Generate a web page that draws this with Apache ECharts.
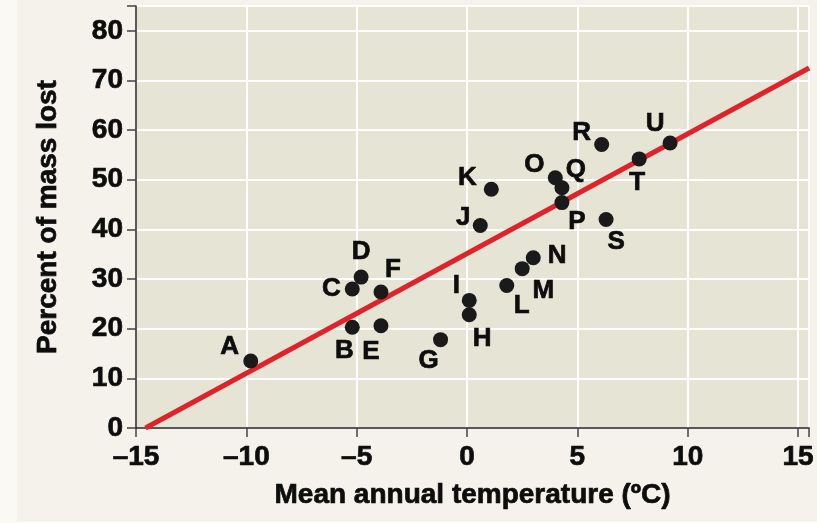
<!DOCTYPE html>
<html>
<head>
<meta charset="utf-8">
<script src="https://cdn.jsdelivr.net/npm/echarts@6/dist/echarts.min.js"></script>
<style>
html,body{margin:0;padding:0;background:#faf9f4;}
#chart{width:817px;height:523px;}
</style>
</head>
<body>
<div id="chart"></div>
<script>
// ---- data ----
var siteNames = ['A','B','C','D','E','F','G','H','I','J','K','L','M','N','O','P','Q','R','S','T','U'];
var temperature = [-9.8,-5.2,-5.2,-4.8,-3.9,-3.9,-1.2,0.1,0.1,0.6,1.1,1.8,2.5,3.0,4.0,4.3,4.3,6.1,6.3,7.8,9.2];
var massLost = [13.5,20.3,28.0,30.4,20.6,27.4,17.8,22.8,25.7,40.8,48.1,28.7,32.1,34.3,50.4,45.4,48.4,57.1,42.0,54.2,57.4];
var fitLineX = [-14.57, 15.5];
var fitLineY = [0, 72.5];
var xTicks = [-15,-10,-5,0,5,10,15];
var yTicks = [0,10,20,30,40,50,60,70,80];

// label placement (styling only, pixel offsets from each point)
var labelOffsets = {
  A:[-21,-14], B:[-8,24], C:[-21,0], D:[0,-25], E:[-10,26], F:[12,-22], G:[-12,21],
  H:[13,24], I:[-13,-15], J:[-17,-8], K:[-24,-11], L:[15,20], M:[21,22], N:[24,-2],
  O:[-21,-13], P:[15,19], Q:[14,-18], R:[-20,-12], S:[10,22], T:[-2,24], U:[-15,-19]
};

var points = siteNames.map(function(n,i){
  return {name:n, value:[temperature[i], massLost[i]], label:{offset:labelOffsets[n]}};
});
var fitData = fitLineX.map(function(x,i){ return [x, fitLineY[i]]; });

var FONT = '"Liberation Sans", Arial, sans-serif';
var heavy = {fontFamily:FONT, fontWeight:'bold', color:'#0d0d0d', textBorderColor:'#0d0d0d', textBorderWidth:0.7};
function t(extra){ var o = {}; for (var k in heavy) o[k]=heavy[k]; for (var k2 in extra) o[k2]=extra[k2]; return o; }

var chart = echarts.init(document.getElementById('chart'));
chart.setOption({
  backgroundColor:'#faf9f4',
  animation:false,
  graphic:[{type:'rect', z:-10, silent:true, shape:{x:17, y:0, width:800, height:521}, style:{fill:'#f4f2ea'}}],
  grid:{left:136, right:1, top:6, bottom:95, show:true, backgroundColor:'#e6e4d4', borderWidth:0},
  xAxis:{
    type:'value', min:-15, max:15.5, interval:5,
    name:'Mean annual temperature (\u00baC)', nameLocation:'middle', nameGap:53,
    nameTextStyle:t({fontSize:28}),
    axisLine:{show:true, onZero:false, lineStyle:{color:'#222', width:1.5}},
    axisTick:{show:true, length:9, lineStyle:{color:'#444', width:1.5}},
    axisLabel:t({margin:15, fontSize:28,
      formatter:function(v){ return xTicks.indexOf(v)>=0 ? (v<0 ? '\u2013'+Math.abs(v) : String(v)) : ''; }}),
    splitLine:{show:true, lineStyle:{color:'#ffffff', width:2}}
  },
  yAxis:{
    type:'value', min:0, max:85, interval:10,
    name:'Percent of mass lost', nameLocation:'middle', nameGap:74,
    nameTextStyle:t({fontSize:28}),
    axisLine:{show:true, onZero:false, lineStyle:{color:'#222', width:1.5}},
    axisTick:{show:true, length:9, lineStyle:{color:'#444', width:1.5}},
    axisLabel:t({margin:13, fontSize:28,
      formatter:function(v){ return yTicks.indexOf(v)>=0 ? String(v) : ''; }}),
    splitLine:{show:true, lineStyle:{color:'#ffffff', width:2}}
  },
  series:[
    {
      type:'line', data:fitData, symbol:'none', clip:true, z:2,
      lineStyle:{color:'#e0232b', width:5}
    },
    {
      type:'scatter', data:points, symbol:'circle', symbolSize:15, z:3,
      itemStyle:{color:'#1a1a1a', opacity:1},
      label:t({show:true, position:'inside', formatter:'{b}', fontSize:26})
    }
  ]
});
</script>
</body>
</html>
